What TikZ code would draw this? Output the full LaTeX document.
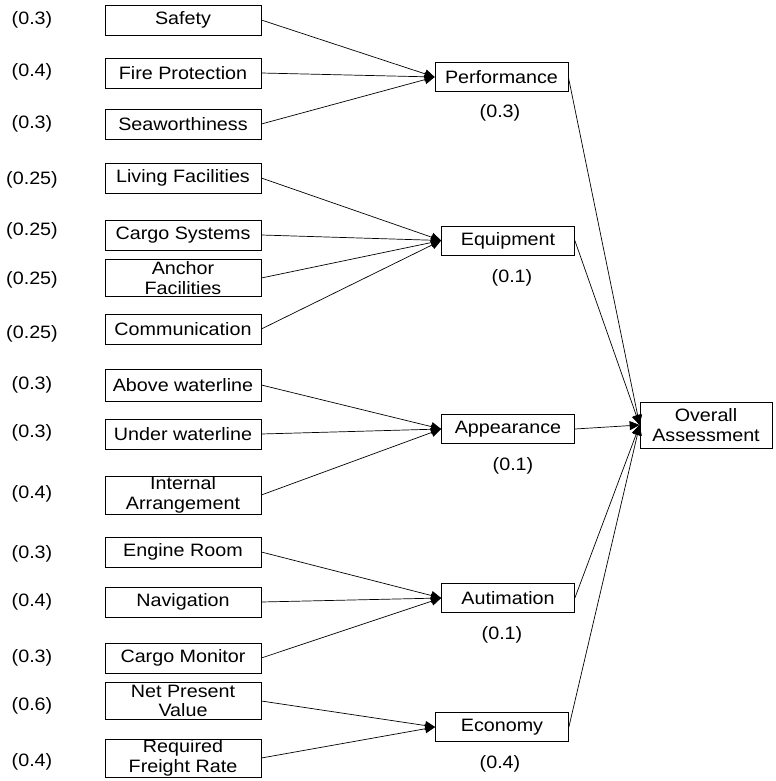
\documentclass[tikz,border=0pt]{standalone}
\usepackage{fontspec}
\setmainfont[FakeStretch=1.1]{Liberation Sans}
\usetikzlibrary{arrows.meta,positioning}
\tikzset{
   every path/.style={>={Triangle[length=10bp,width=9bp]}},
   link/.style={->,draw=black,line width=0.7bp},
}

\begin{document}
\begin{tikzpicture}[x=1bp, y=1bp,
    sub/.style={draw, line width=0.7bp, minimum width=156bp, minimum height=30bp,
               inner sep=1bp, align=center, font=\fontsize{18}{19.5}\selectfont},
    crit/.style={sub, minimum width=133bp, minimum height=29bp},
    goal/.style={sub, minimum width=132bp, minimum height=46bp},
    wt/.style={font=\fontsize{18}{19.5}\selectfont, inner sep=0pt}
]
\useasboundingbox (0,0) rectangle (776,-781);

% ------------------------------------------------------------
% Sub-criteria (left column) with weights
% ------------------------------------------------------------

% Performance group
\node[sub] (safe) at (183,-20)  {Safety};
\node[sub] (fire) at (183,-73)  {Fire Protection};
\node[sub] (sea)  at (183,-124) {Seaworthiness};

\node[wt] (wsafe) at (32,-20)  {(0.3)};
\node[wt] (wfire) at (32,-72)  {(0.4)};
\node[wt] (wsea)  at (32,-124) {(0.3)};

% Equipment group
\node[sub] (living) at (183,-178) {Living Facilities};
\node[sub] (cargo)  at (183,-235) {Cargo Systems};
\node[sub, minimum height=37bp] (anchor) at (183,-278) {Anchor\\Facilities};
\node[sub] (comm)   at (183,-329) {Communication};

\node[wt] (wliving) at (32,-180) {(0.25)};
\node[wt] (wcargo)  at (32,-231) {(0.25)};
\node[wt] (wanchor) at (32,-280) {(0.25)};
\node[wt] (wcomm)   at (32,-334) {(0.25)};

% Appearance group
\node[sub, minimum height=32bp] (above) at (183,-385) {Above waterline};
\node[sub] (under) at (183,-434) {Under waterline};
\node[sub, minimum height=38bp] (intern) at (183,-495) {Internal\\Arrangement};

\node[wt] (wabove)  at (32,-385) {(0.3)};
\node[wt] (wunder)  at (32,-433) {(0.3)};
\node[wt] (wintern) at (32,-494) {(0.4)};

% Autimation group
\node[sub] (engine) at (183,-552) {Engine Room};
\node[sub] (navi)   at (183,-602) {Navigation};
\node[sub] (monit)  at (183,-658) {Cargo Monitor};

\node[wt] (wengine) at (32,-554) {(0.3)};
\node[wt] (wnavi)   at (32,-602) {(0.4)};
\node[wt] (wmonit)  at (32,-658) {(0.3)};

% Economy group
\node[sub, minimum height=37bp] (npv) at (183,-701) {Net Present\\Value};
\node[sub, minimum height=38bp] (rfr) at (183,-758) {Required\\Freight Rate};

\node[wt] (wnpv) at (32,-706) {(0.6)};
\node[wt] (wrfr) at (32,-762) {(0.4)};

% ------------------------------------------------------------
% Criteria (middle column) with weights
% ------------------------------------------------------------
\node[crit] (perf)  at (501.5,-77)  {Performance};
\node[crit] (equip) at (508,-240.5) {Equipment};
\node[crit] (appear) at (508,-429)  {Appearance};
\node[crit] (autom) at (508,-598)   {Autimation};
\node[crit] (econ)  at (502,-727)   {Economy};

\node[wt] (wperf)   at (500,-113) {(0.3)};
\node[wt] (wequip)  at (512,-278) {(0.1)};
\node[wt] (wappear) at (513,-466) {(0.1)};
\node[wt] (wautom)  at (502,-635) {(0.1)};
\node[wt] (wecon)   at (500,-764) {(0.4)};

% ------------------------------------------------------------
% Goal
% ------------------------------------------------------------
\node[goal] (overall) at (706,-425) {Overall\\Assessment};

% sub-criteria to criteria
\draw[link] (safe.east) to (perf.west);
\draw[link] (fire.east) to (perf.west);
\draw[link] (sea.east) to (perf.west);

\draw[link] (living.east) to (equip.west);
\draw[link] (cargo.east) to (equip.west);
\draw[link] (anchor.east) to (equip.west);
\draw[link] (comm.east) to (equip.west);

\draw[link] (above.east) to (appear.west);
\draw[link] (under.east) to (appear.west);
\draw[link] (intern.east) to (appear.west);

\draw[link] (engine.east) to (autom.west);
\draw[link] (navi.east) to (autom.west);
\draw[link] (monit.east) to (autom.west);

\draw[link] (npv.east) to (econ.west);
\draw[link] (rfr.east) to (econ.west);

% criteria to goal
\draw[link] (perf.east) to (overall.west);
\draw[link] (equip.east) to (overall.west);
\draw[link] (appear.east) to (overall.west);
\draw[link] (autom.east) to (overall.west);
\draw[link] (econ.east) to (overall.west);
\end{tikzpicture}
\end{document}
